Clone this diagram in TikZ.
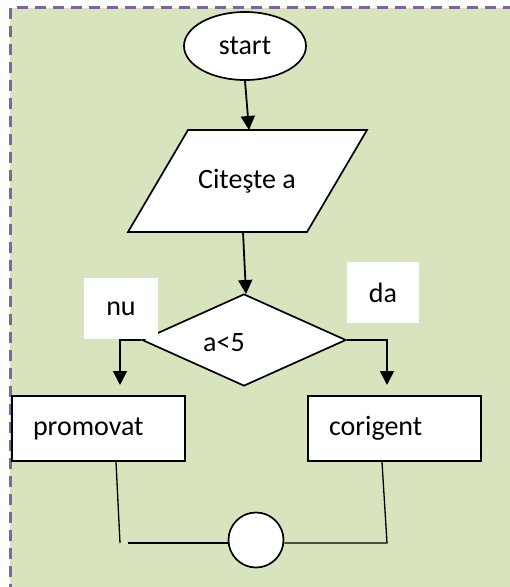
\documentclass[tikz,border=0pt]{standalone}
\usepackage{fontspec}
\setmainfont{Carlito}
\usetikzlibrary{shapes.geometric,arrows.meta}
\definecolor{panel}{HTML}{D7E4BD}
\definecolor{frame}{HTML}{8064A2}
\begin{document}
\begin{tikzpicture}[x=1pt,y=-1pt,
  font=\fontsize{28}{34}\selectfont,
  flow/.style={draw, line width=1.7pt, fill=white, inner sep=0pt},
  arr/.style={line width=1.8pt, -{Triangle[width=14pt,length=14pt]}},
  wire/.style={line width=1.3pt},
  tag/.style={fill=white, inner sep=0pt, minimum height=61pt}]
\useasboundingbox (0,0) rectangle (510,587);
\clip (0,0) rectangle (510,587);
% panel with dashed frame
\fill[panel] (10,7.5) rectangle (520,600);
\draw[frame, line width=2.5pt, dash pattern=on 11pt off 7pt, dash phase=-6pt] (520,7.5) -- (10.5,7.5) -- (10.5,600);

% start
\node[flow, ellipse, minimum width=122pt, minimum height=68pt] (start) at (245,46) {start};

% input block (parallelogram)
\draw[line width=1.7pt, fill=white] (188,130) -- (367,130) -- (307,232) -- (128,232) -- cycle;
\node (read) at (247,181) {Citeşte a};
\coordinate (readin) at (249,130);
\coordinate (readout) at (243,232);
\draw[arr] (start.south) -- (readin);

% decision
\node[flow, diamond, minimum width=204pt, minimum height=92pt] (cond) at (244,340) {};
\node (condtext) at (224,343) {a<5};
\coordinate (condin) at (246,294);
\draw[arr] (readout) -- (condin);

% branch labels
\node[tag, minimum width=74pt] (nu) at (121,308.5) {nu};
\node[tag, minimum width=72pt] (da) at (383,292.5) {da};

% outcome boxes
\node[flow, text width=131pt, inner xsep=21pt, minimum height=65pt, align=left] (prom) at (98.5,428.5) {promovat};
\node[flow, text width=131pt, inner xsep=21pt, minimum height=65pt, align=left] (cor) at (394.5,428.5) {corigent};

\coordinate (promin) at (120,385);
\coordinate (corin) at (387,385);
\draw[arr] (cond.west) -| (promin);
\draw[arr] (cond.east) -| (corin);

% join
\node[flow, circle, minimum size=55pt] (join) at (256,540) {};
\coordinate (lfoot) at (120,543);
\coordinate (ljoin) at (128,543);
\coordinate (rfoot) at (387,543);
\draw[wire] ([xshift=17.5pt]prom.south) -- (lfoot);
\draw[wire] (ljoin) -- (join.west |- ljoin);
\draw[wire] (join.east |- rfoot) -- (rfoot) -- ([xshift=-12.5pt]cor.south);
\end{tikzpicture}
\end{document}
